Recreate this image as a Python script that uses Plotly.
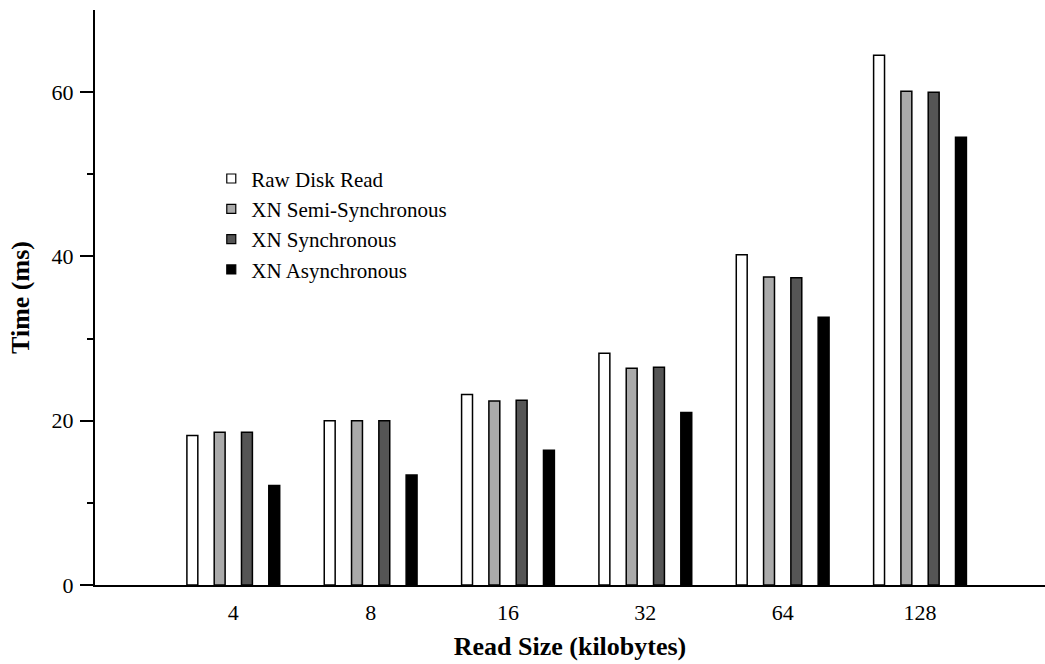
import plotly.graph_objects as go

categories = ["4", "8", "16", "32", "64", "128"]
raw_disk_read = [18.2, 20.0, 23.2, 28.2, 40.2, 64.5]
xn_semi_sync = [18.6, 20.0, 22.4, 26.4, 37.5, 60.1]
xn_sync = [18.6, 20.0, 22.5, 26.5, 37.4, 60.0]
xn_async = [12.1, 13.4, 16.4, 21.0, 32.6, 54.5]

series_names = ["Raw Disk Read", "XN Semi-Synchronous", "XN Synchronous", "XN Asynchronous"]
series_values = [raw_disk_read, xn_semi_sync, xn_sync, xn_async]
series_colors = ["#ffffff", "#aaaaaa", "#555555", "#000000"]

FONT = "Liberation Serif, Times New Roman, serif"

fig = go.Figure()
for name, vals, col in zip(series_names, series_values, series_colors):
    fig.add_trace(go.Bar(
        x=categories, y=vals, name=name,
        marker=dict(color=col, line=dict(color="#000000", width=1.5)),
        showlegend=False,
    ))
# legend entries with small square swatches
for name, col in zip(series_names, series_colors):
    fig.add_trace(go.Scatter(
        x=[None], y=[None], mode="markers", name=name,
        marker=dict(symbol="square", size=9, color=col, line=dict(color="#000000", width=1.2)),
    ))

fig.update_layout(
    width=1045, height=664,
    margin=dict(l=95, r=0, t=10, b=79),
    paper_bgcolor="white", plot_bgcolor="white",
    barmode="group", bargap=0.205, bargroupgap=0.6,
    font=dict(family=FONT, size=20, color="#000000"),
    showlegend=True,
    legend=dict(
        x=0.1224, y=0.742, xanchor="left", yanchor="top",
        bgcolor="rgba(0,0,0,0)", font=dict(family=FONT, size=21),
        tracegroupgap=0, itemsizing="trace",
    ),
)
fig.update_xaxes(
    type="category", range=[-1.007, 5.91],
    showline=True, linecolor="#000000", linewidth=2,
    ticks="", showgrid=False, zeroline=False,
    ticklabelstandoff=7,
    tickfont=dict(family=FONT, size=22),
    title=dict(text="<b>Read Size (kilobytes)</b>", font=dict(family=FONT, size=26), standoff=12),
)
fig.update_yaxes(
    range=[0, 70],
    showline=True, linecolor="#000000", linewidth=2,
    ticks="outside", ticklen=13, tickwidth=1.5, tickcolor="#000000",
    tickvals=[0, 20, 40, 60],
    minor=dict(tickvals=[10, 30, 50], ticks="outside", ticklen=6, tickwidth=1.5, tickcolor="#000000"),
    showgrid=False, zeroline=False,
    tickfont=dict(family=FONT, size=22),
    ticklabelstandoff=2,
    title=dict(text="<b>Time (ms)</b>", font=dict(family=FONT, size=26), standoff=14),
)

fig.write_html(
    "out.html",
    config={"displayModeBar": False},
    post_script=(
        "document.body.style.margin='0';"
        "document.body.style.overflow='hidden';"
        "document.documentElement.style.overflow='hidden';"
    ),
)
